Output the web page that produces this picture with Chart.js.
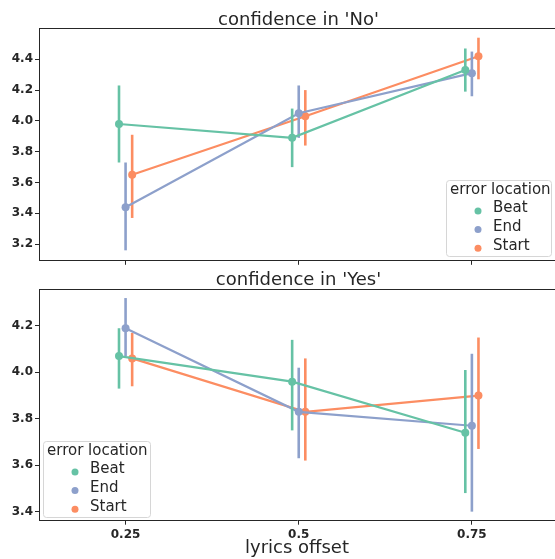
<!DOCTYPE html>
<html>
<head>
<meta charset="utf-8">
<script src="https://cdn.jsdelivr.net/npm/chart.js@4/dist/chart.umd.min.js"></script>
<style>
body { margin: 0; background: #fff; width: 555px; height: 559px; overflow: hidden; position: relative; }
canvas { position: absolute; left: 0; }
#chartNo { top: 0; }
#chartYes { top: 262px; }
</style>
</head>
<body>
<canvas id="chartNo" width="555" height="270"></canvas>
<canvas id="chartYes" width="555" height="297"></canvas>
<script>
// x categories and hue levels
const offsets = ['0.25', '0.5', '0.75'];
const locations = ['Beat', 'End', 'Start'];
const colors = ['#66c2a5', '#8da0cb', '#fc8d62'];
const dodge = [-0.038, 0, 0.038];

// confidence in 'No' : means and CI bounds per offset
const noBeat = [3.98, 3.89, 4.33];
const noBeatLow = [3.73, 3.70, 4.19];
const noBeatHigh = [4.23, 4.08, 4.47];
const noEnd = [3.44, 4.05, 4.31];
const noEndLow = [3.16, 3.89, 4.16];
const noEndHigh = [3.73, 4.23, 4.45];
const noStart = [3.65, 4.03, 4.42];
const noStartLow = [3.37, 3.84, 4.27];
const noStartHigh = [3.91, 4.20, 4.54];

// confidence in 'Yes'
const yesBeat = [4.07, 3.96, 3.74];
const yesBeatLow = [3.93, 3.75, 3.48];
const yesBeatHigh = [4.19, 4.14, 4.01];
const yesEnd = [4.19, 3.83, 3.77];
const yesEndLow = [4.07, 3.63, 3.40];
const yesEndHigh = [4.32, 4.02, 4.08];
const yesStart = [4.06, 3.83, 3.90];
const yesStartLow = [3.94, 3.62, 3.67];
const yesStartHigh = [4.17, 4.06, 4.15];

const noTicks = [3.2, 3.4, 3.6, 3.8, 4.0, 4.2, 4.4];
const yesTicks = [3.4, 3.6, 3.8, 4.0, 4.2];

const FONT = "'DejaVu Sans', sans-serif";
const INK = '#262626';

function makeDatasets(means, lows, highs) {
    return means.map((m, i) => ({
        label: locations[i],
        data: m.map((v, j) => ({x: j + dodge[i], y: v, lo: lows[i][j], hi: highs[i][j]})),
        borderColor: colors[i],
        backgroundColor: colors[i],
        borderWidth: 2.2,
        pointRadius: 4,
        pointBorderWidth: 0,
        tension: 0,
        fill: false
    }));
}

// error bars drawn under each series, through the chart's own scales
const errorBars = {
    id: 'errorBars',
    beforeDatasetDraw(chart, args) {
        const ds = chart.data.datasets[args.index];
        const xs = chart.scales.x, ys = chart.scales.y, ctx = chart.ctx;
        ctx.save();
        ctx.strokeStyle = ds.borderColor;
        ctx.lineWidth = 2.6;
        ds.data.forEach(p => {
            const px = xs.getPixelForValue(p.x);
            ctx.beginPath();
            ctx.moveTo(px, ys.getPixelForValue(p.lo));
            ctx.lineTo(px, ys.getPixelForValue(p.hi));
            ctx.stroke();
        });
        ctx.restore();
    }
};

// axes title, top spine and matplotlib-style legend box
const frameLegend = {
    id: 'frameLegend',
    afterDraw(chart, args, opts) {
        const ctx = chart.ctx, a = chart.chartArea;
        ctx.save();
        ctx.strokeStyle = INK;
        ctx.lineWidth = 1;
        ctx.beginPath();
        ctx.moveTo(a.left, a.top + 0.5);
        ctx.lineTo(a.right, a.top + 0.5);
        ctx.stroke();

        ctx.fillStyle = INK;
        ctx.font = '18px ' + FONT;
        ctx.textAlign = 'center';
        ctx.textBaseline = 'alphabetic';
        ctx.fillText(opts.title, (a.left + 558) / 2, opts.titleY);

        const bx = opts.x, by = opts.y, bw = opts.w, bh = 76;
        ctx.fillStyle = 'rgba(255,255,255,0.8)';
        ctx.strokeStyle = '#d6d6d6';
        ctx.beginPath();
        ctx.roundRect(bx + 0.5, by + 0.5, bw, bh, 3);
        ctx.fill();
        ctx.stroke();

        ctx.fillStyle = INK;
        ctx.font = '15px ' + FONT;
        ctx.textBaseline = 'middle';
        ctx.textAlign = 'left';
        ctx.fillText('error location', bx + 4, by + 10.5);
        chart.data.datasets.forEach((ds, i) => {
            const cy = by + 31 + i * 18.6;
            ctx.fillStyle = ds.backgroundColor;
            ctx.beginPath();
            ctx.arc(bx + 32, cy, 3.5, 0, Math.PI * 2);
            ctx.fill();
            ctx.fillStyle = INK;
            ctx.fillText(ds.label, bx + 47, cy - 2.5);
        });
        ctx.restore();
    }
};

function makeChart(id, cfg) {
    return new Chart(document.getElementById(id), {
        type: 'line',
        data: {datasets: makeDatasets(cfg.means, cfg.lows, cfg.highs)},
        options: {
            responsive: false,
            devicePixelRatio: 1,
            animation: false,
            events: [],
            layout: {padding: {top: cfg.top, left: 0, right: 0, bottom: 0}, autoPadding: false},
            plugins: {
                legend: {display: false},
                tooltip: {enabled: false},
                title: {display: false},
                frameLegend: cfg.legend
            },
            scales: {
                x: {
                    type: 'linear',
                    min: -0.5,
                    max: 2.48,
                    afterBuildTicks: s => { s.ticks = offsets.map((o, i) => ({value: i})); },
                    afterFit: s => { s.height = cfg.xHeight; },
                    grid: {drawOnChartArea: false, color: INK, tickLength: 4},
                    border: {color: INK, width: 1},
                    ticks: {
                        display: cfg.showX,
                        padding: 3,
                        color: INK,
                        font: {family: FONT, size: 12, weight: 'bold'},
                        callback: v => offsets[v]
                    },
                    title: {
                        display: cfg.showX,
                        text: 'lyrics offset',
                        color: INK,
                        font: {family: FONT, size: 18, lineHeight: 1.2},
                        padding: {top: 0, bottom: 0}
                    }
                },
                y: {
                    min: cfg.ymin,
                    max: cfg.ymax,
                    afterBuildTicks: s => { s.ticks = cfg.yticks.map(v => ({value: v})); },
                    afterFit: s => { s.width = 39; },
                    grid: {drawOnChartArea: false, color: INK, tickLength: 4},
                    border: {color: INK, width: 1},
                    ticks: {
                        padding: 2,
                        color: INK,
                        font: {family: FONT, size: 12, weight: 'bold'},
                        callback: v => v.toFixed(1)
                    }
                }
            }
        },
        plugins: [errorBars, frameLegend]
    });
}

makeChart('chartNo', {
    top: 28,
    means: [noBeat, noEnd, noStart],
    lows: [noBeatLow, noEndLow, noStartLow],
    highs: [noBeatHigh, noEndHigh, noStartHigh],
    ymin: 3.092, ymax: 4.603, yticks: noTicks,
    xHeight: 9, showX: false,
    legend: {x: 446, y: 180, w: 105, title: "confidence in 'No'", titleY: 24.5}
});

makeChart('chartYes', {
    top: 27,
    means: [yesBeat, yesEnd, yesStart],
    lows: [yesBeatLow, yesEndLow, yesStartLow],
    highs: [yesBeatHigh, yesEndHigh, yesStartHigh],
    ymin: 3.361, ymax: 4.359, yticks: yesTicks,
    xHeight: 38.3, showX: true,
    legend: {x: 43, y: 179, w: 107, title: "confidence in 'Yes'", titleY: 23}
});
</script>
</body>
</html>
